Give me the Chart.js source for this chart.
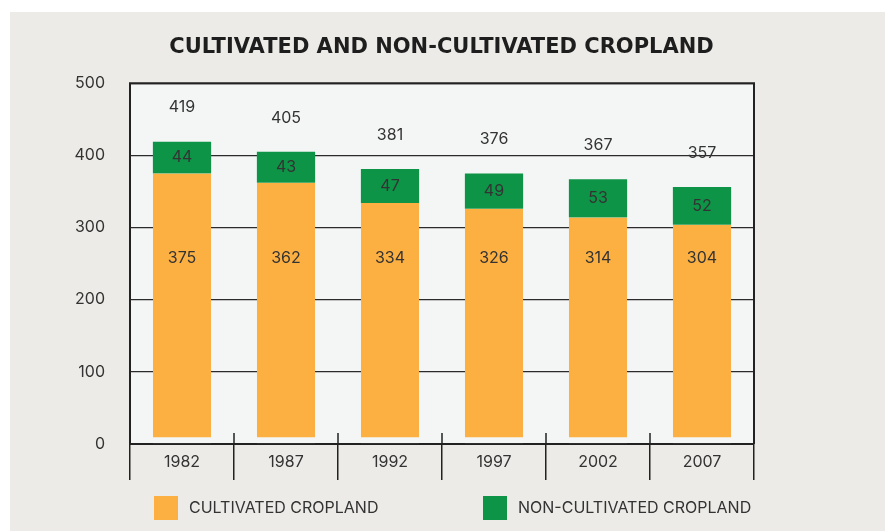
<!DOCTYPE html>
<html>
<head>
<meta charset="utf-8">
<script src="https://cdn.jsdelivr.net/npm/chart.js@4"></script>
<style>
  html, body { margin: 0; padding: 0; background: #ffffff; }
  #wrap { position: absolute; left: 10px; top: 12px; width: 875px; height: 519px; background: #ecebe7; }
</style>
</head>
<body>
<div id="wrap"><canvas id="cropChart" width="875" height="519"></canvas></div>
<script>
/* =========================
   DATI
========================= */
const years = ["1982", "1987", "1992", "1997", "2002", "2007"];
const cultivated = [375, 362, 334, 326, 314, 304];
const nonCultivated = [44, 43, 47, 49, 53, 52];
const totals = [419, 405, 381, 376, 367, 357];
const yTicks = [0, 100, 200, 300, 400, 500];

const ORANGE = "#fcb042";
const GREEN = "#0e9447";
const PLOT_BG = "#f4f6f5";
const INK = "#333333";
const FONT = "Inter, 'Noto Sans', sans-serif";

/* =========================
   PLUGIN: sfondo area grafico
========================= */
const plotBox = {
  id: "plotBox",
  beforeDraw(chart) {
    const { ctx, chartArea: a } = chart;
    ctx.save();
    ctx.fillStyle = PLOT_BG;
    ctx.fillRect(a.left, a.top, a.right - a.left, a.bottom - a.top);
    ctx.restore();
  },
  afterDraw(chart) {
    const { ctx, chartArea: a } = chart;
    ctx.save();
    ctx.strokeStyle = "#222";
    ctx.lineWidth = 2;
    ctx.beginPath();
    ctx.moveTo(a.left, a.bottom);
    ctx.lineTo(a.left, a.top);
    ctx.lineTo(a.right, a.top);
    ctx.lineTo(a.right, a.bottom);
    ctx.stroke();
    // piccoli tratti sopra l'asse x
    const x = chart.scales.x;
    ctx.lineWidth = 1.5;
    ctx.beginPath();
    for (let i = 1; i < years.length; i++) {
      const px = (x.getPixelForValue(i - 1) + x.getPixelForValue(i)) / 2;
      ctx.moveTo(px, a.bottom - 11);
      ctx.lineTo(px, a.bottom);
    }
    ctx.stroke();
    ctx.restore();
  }
};

/* =========================
   PLUGIN: etichette valori
========================= */
const valueLabels = {
  id: "valueLabels",
  afterDatasetsDraw(chart) {
    const { ctx } = chart;
    const y = chart.scales.y;
    const m0 = chart.getDatasetMeta(0);
    const m1 = chart.getDatasetMeta(1);
    ctx.save();
    ctx.font = "16px " + FONT;
    ctx.fillStyle = INK;
    ctx.textAlign = "center";
    ctx.textBaseline = "middle";
    years.forEach((yr, i) => {
      const b0 = m0.data[i];
      const b1 = m1.data[i];
      ctx.fillText(cultivated[i], b0.x, y.getPixelForValue(257));
      ctx.fillText(nonCultivated[i], b1.x, (b1.y + b1.base) / 2);
      ctx.fillText(totals[i], b1.x, b1.y - 34);
    });
    ctx.restore();
  }
};

/* =========================
   PLUGIN: legenda
========================= */
const bottomLegend = {
  id: "bottomLegend",
  afterDraw(chart) {
    const { ctx, chartArea: a } = chart;
    const starts = [a.left + 24, a.left + 353];
    ctx.save();
    ctx.font = "16px " + FONT;
    ctx.textBaseline = "middle";
    ctx.textAlign = "left";
    chart.data.datasets.forEach((ds, i) => {
      const bx = starts[i];
      const by = a.bottom + 52;
      ctx.fillStyle = ds.backgroundColor;
      ctx.fillRect(bx, by, 24, 24);
      ctx.fillStyle = INK;
      ctx.fillText(ds.label, bx + 35, by + 12);
    });
    ctx.restore();
  }
};

/* =========================
   GRAFICO
========================= */
new Chart(document.getElementById("cropChart"), {
  type: "bar",
  data: {
    labels: years,
    datasets: [
      {
        label: "CULTIVATED CROPLAND",
        data: cultivated,
        backgroundColor: ORANGE,
        borderColor: PLOT_BG,
        borderWidth: { top: 0, left: 0, right: 0, bottom: 6 },
        borderSkipped: false
      },
      {
        label: "NON-CULTIVATED CROPLAND",
        data: nonCultivated,
        backgroundColor: GREEN,
        borderWidth: 0
      }
    ]
  },
  options: {
    responsive: false,
    animation: false,
    layout: { padding: { left: 0, right: 12, top: 0, bottom: 51 } },
    datasets: { bar: { categoryPercentage: 1, barPercentage: 0.56 } },
    plugins: {
      legend: { display: false },
      tooltip: { enabled: false },
      title: {
        display: true,
        text: "CULTIVATED AND NON-CULTIVATED CROPLAND",
        color: "#1e1e1e",
        font: { family: "'DejaVu Sans', sans-serif", size: 21, weight: "bold" },
        padding: { top: 23, bottom: 23 }
      }
    },
    scales: {
      x: {
        stacked: true,
        afterFit(s) { s.height = 36; },
        grid: {
          offset: true,
          drawOnChartArea: false,
          drawTicks: true,
          tickLength: 36,
          color: "#222",
          lineWidth: 1.5
        },
        border: { display: true, color: "#222", width: 2 },
        ticks: { color: INK, font: { family: FONT, size: 16 }, padding: -27 }
      },
      y: {
        stacked: true,
        min: 0,
        max: 500,
        afterFit(s) { s.width = 120; },
        afterBuildTicks(s) { s.ticks = yTicks.map(v => ({ value: v })); },
        grid: { color: "#2b2b2b", lineWidth: 1.3, drawTicks: false },
        border: { display: false },
        ticks: { color: INK, font: { family: FONT, size: 16 }, padding: 25 }
      },
      // spazio vuoto a destra dell'area grafico
      spacer: {
        type: "linear",
        position: "right",
        display: true,
        afterFit(s) { s.width = 119; },
        grid: { display: false },
        border: { display: false },
        ticks: { display: false }
      }
    }
  },
  plugins: [plotBox, valueLabels, bottomLegend]
});
</script>
</body>
</html>
